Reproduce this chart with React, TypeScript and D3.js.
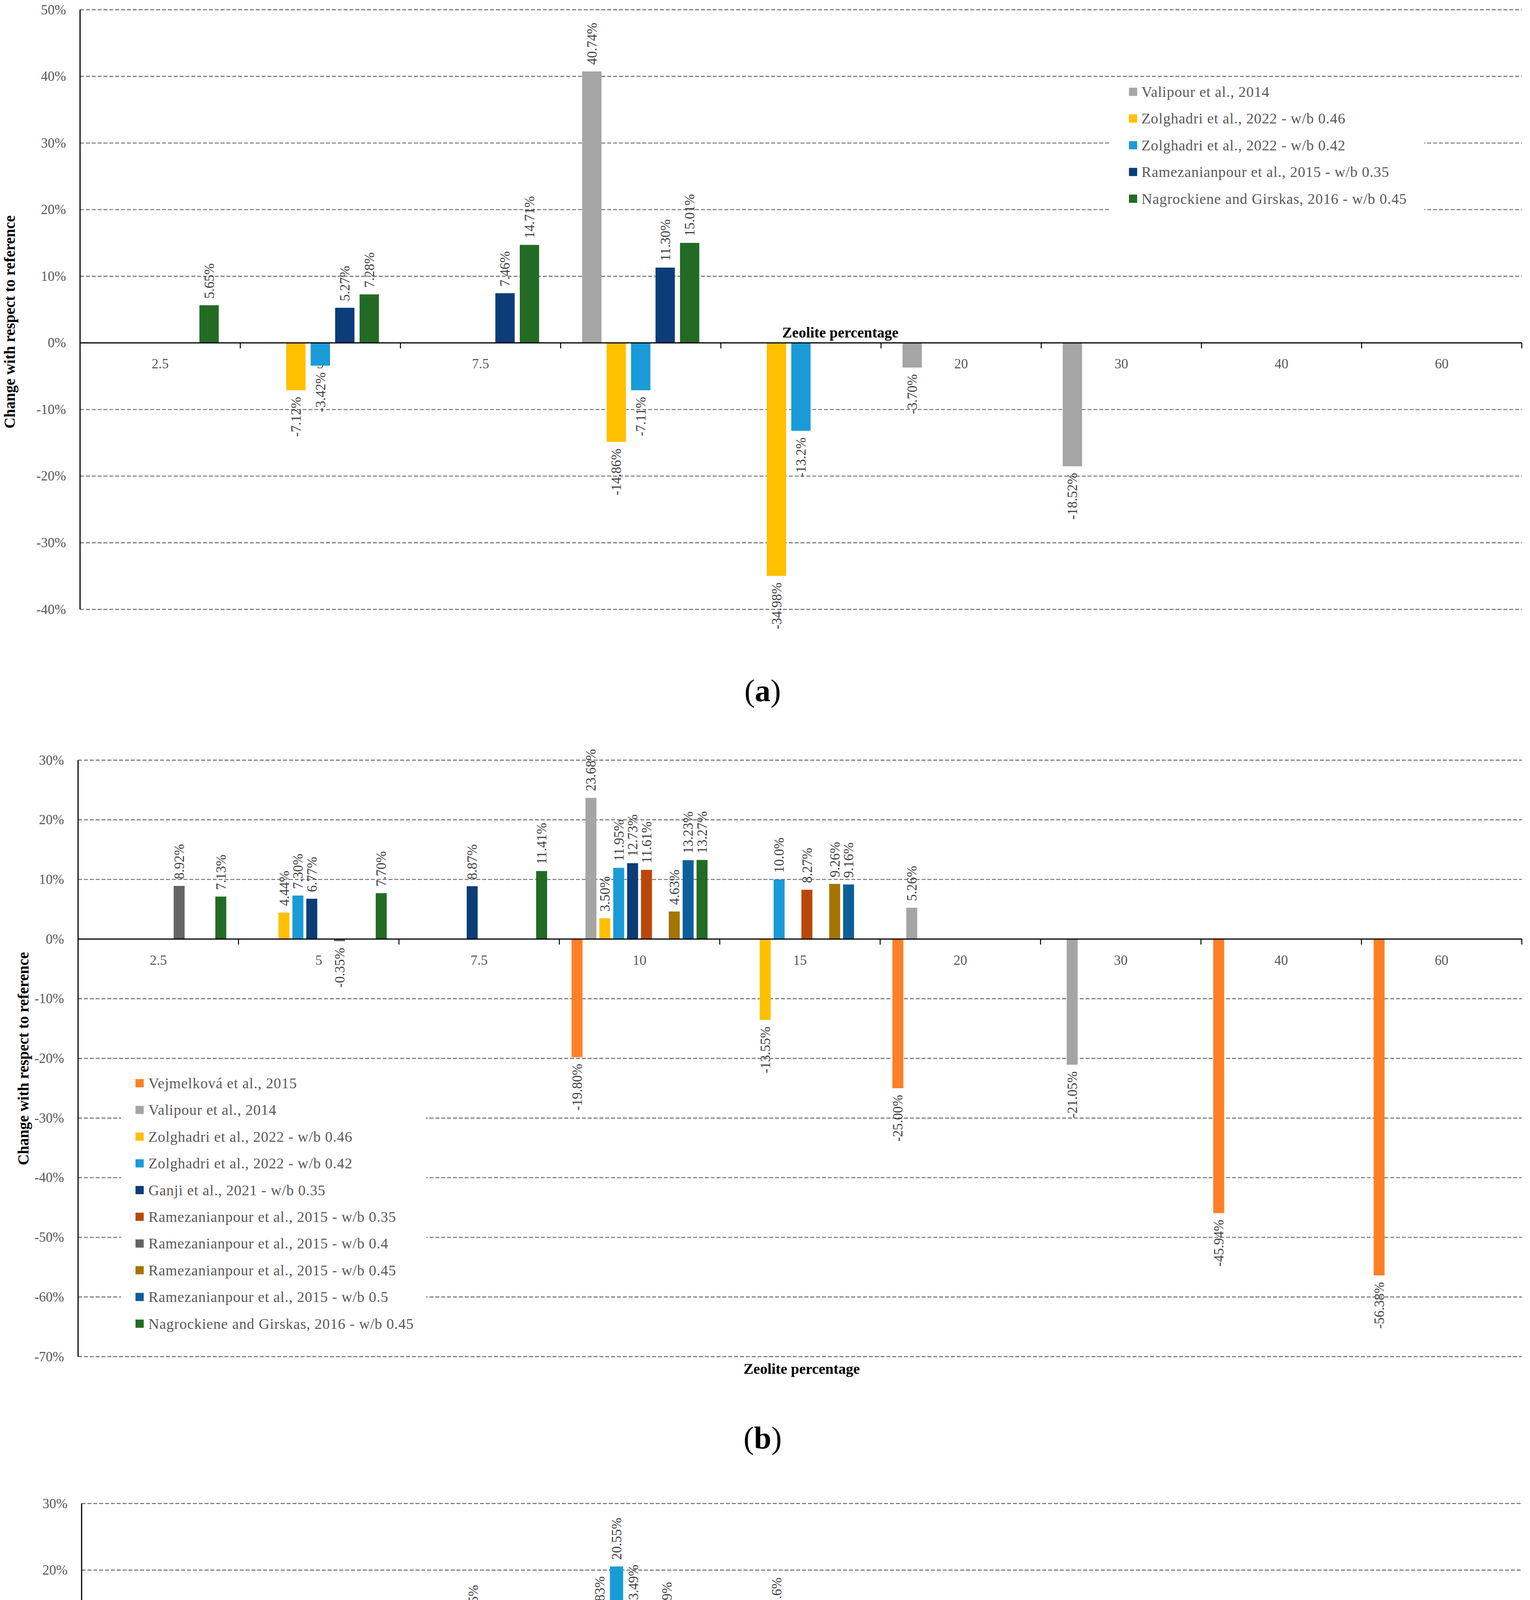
import React, { useRef, useEffect } from 'react';
import * as d3 from 'd3';

// Zeolite replacement levels shared by the three panels
const categories = ['2.5', '5', '7.5', '10', '15', '20', '30', '40', '60'];

// ---- panel (a) ----
const namesA = [
  'Valipour et al., 2014',
  'Zolghadri et al., 2022 - w/b 0.46',
  'Zolghadri et al., 2022 - w/b 0.42',
  'Ramezanianpour et al., 2015 - w/b 0.35',
  'Nagrockiene and Girskas, 2016 - w/b 0.45',
];
const valipourA = [null, null, null, '40.74', null, '-3.70', '-18.52', null, null];
const zolg046A = [null, '-7.12', null, '-14.86', '-34.98', null, null, null, null];
const zolg042A = [null, '-3.42', null, '-7.11', '-13.2', null, null, null, null];
const ram035A = [null, '5.27', '7.46', '11.30', null, null, null, null, null];
const nagA = ['5.65', '7.28', '14.71', '15.01', null, null, null, null, null];
const yTicksA = [-40, -30, -20, -10, 0, 10, 20, 30, 40, 50];

// ---- panel (b) ----
const namesB = [
  'Vejmelková et al., 2015',
  'Valipour et al., 2014',
  'Zolghadri et al., 2022 - w/b 0.46',
  'Zolghadri et al., 2022 - w/b 0.42',
  'Ganji et al., 2021 - w/b 0.35',
  'Ramezanianpour et al., 2015 - w/b 0.35',
  'Ramezanianpour et al., 2015 - w/b 0.4',
  'Ramezanianpour et al., 2015 - w/b 0.45',
  'Ramezanianpour et al., 2015 - w/b 0.5',
  'Nagrockiene and Girskas, 2016 - w/b 0.45',
];
const vejB = [null, null, null, '-19.80', null, '-25.00', null, '-45.94', '-56.38'];
const valipourB = [null, null, null, '23.68', null, '5.26', '-21.05', null, null];
const zolg046B = [null, '4.44', null, '3.50', '-13.55', null, null, null, null];
const zolg042B = [null, '7.30', null, '11.95', '10.0', null, null, null, null];
const ganjiB = [null, '6.77', '8.87', '12.73', null, null, null, null, null];
const ram035B = [null, null, null, '11.61', '8.27', null, null, null, null];
const ram04B = ['8.92', '-0.35', null, null, null, null, null, null, null];
const ram045B = [null, null, null, '4.63', '9.26', null, null, null, null];
const ram05B = [null, null, null, '13.23', '9.16', null, null, null, null];
const nagB = ['7.13', '7.70', '11.41', '13.27', null, null, null, null, null];
const yTicksB = [-70, -60, -50, -40, -30, -20, -10, 0, 10, 20, 30];

// ---- panel (c) ----
const namesC = [
  'Vejmelková et al., 2015',
  'Zolghadri et al., 2022 - w/b 0.46',
  'Zolghadri et al., 2022 - w/b 0.42',
  'Ganji et al., 2021 - w/b 0.35',
  'Ramezanianpour et al., 2015 - w/b 0.35',
  'Ramezanianpour et al., 2015 - w/b 0.4',
  'Ramezanianpour et al., 2015 - w/b 0.45',
  'Ramezanianpour et al., 2015 - w/b 0.5',
];
const vejC = [null, null, null, '-9.95', null, '-10.41', null, '-39.20', '-53.75'];
const zolg046C = [null, '6.45', null, '11.83', '-1.08', null, null, null, null];
const zolg042C = [null, '8.30', null, '20.55', '12.6', null, null, null, null];
const ganjiC = [null, '7.37', '10.45', '13.49', null, null, null, null, null];
const ram035C = [null, null, null, '4.93', '2.99', null, null, null, null];
const ram04C = [null, null, null, '10.89', '6.22', null, null, null, null];
const ram045C = [null, null, null, '-0.40', '3.01', null, null, null, null];
const ram05C = [null, null, null, '8.89', null, null, null, null, null];
const yTicksC = [-60, -50, -40, -30, -20, -10, 0, 10, 20, 30];

// colours
const ORANGE = '#fd8027';
const GRAY = '#a5a5a5';
const YELLOW = '#ffc000';
const BLUE = '#1a9bd7';
const NAVY = '#0b3d78';
const RUST = '#b8480a';
const DARKGRAY = '#646464';
const GOLD = '#a57500';
const STEEL = '#0d5f9b';
const GREEN = '#226b25';

const FONT = '"Liberation Serif", "Times New Roman", serif';
const W = 3918;
const H = 5645;

const panels = [
  {
    label: 'a',
    names: namesA,
    values: [valipourA, zolg046A, zolg042A, ram035A, nagA],
    colors: [GRAY, YELLOW, BLUE, NAVY, GREEN],
    ticks: yTicksA,
    left: 205, right: 3897, top: 25, bottom: 1560,
    yTitle: { x: 24, y: 824, bold: true },
    xTitle: { x: 2003, y: 851 },
    legend: { x0: 2840, x1: 3647, y0: 212, y1: 548, sq: 2891, tx: 2923, first: 235, step: 68.4 },
    panelLabelY: 1768,
  },
  {
    label: 'b',
    names: namesB,
    values: [vejB, valipourB, zolg046B, zolg042B, ganjiB, ram035B, ram04B, ram045B, ram05B, nagB],
    colors: [ORANGE, GRAY, YELLOW, BLUE, NAVY, RUST, DARKGRAY, GOLD, STEEL, GREEN],
    ticks: yTicksB,
    left: 200, right: 3897, top: 1946, bottom: 3473,
    yTitle: { x: 59, y: 2710, bold: true },
    xTitle: { x: 1904, y: 3504 },
    legend: { x0: 310, x1: 1091, y0: 2740, y1: 3420, sq: 347, tx: 380, first: 2773, step: 68.4 },
    panelLabelY: 3681,
  },
  {
    label: 'c',
    names: namesC,
    values: [vejC, zolg046C, zolg042C, ganjiC, ram035C, ram04C, ram045C, ram05C],
    colors: [ORANGE, YELLOW, BLUE, NAVY, RUST, DARKGRAY, GOLD, STEEL],
    ticks: yTicksC,
    left: 209, right: 3897, top: 3849, bottom: 5384,
    yTitle: { x: 47, y: 4548, bold: false },
    xTitle: { x: 1897, y: 5416 },
    legend: { x0: 338, x1: 1046, y0: 4712, y1: 5262, sq: 365, tx: 397, first: 4743, step: 68.3 },
    panelLabelY: 5592,
  },
];

function drawPanel(root, p) {
  const g = root.append('g');
  const yMin = d3.min(p.ticks);
  const yMax = d3.max(p.ticks);

  const x = d3.scaleBand().domain(categories).range([p.left, p.right]).padding(0);
  // series slots inside each category (Excel gap width ~ 21%)
  const xs = d3
    .scaleBand()
    .domain(p.names)
    .range([0, x.bandwidth()])
    .paddingInner(0.21)
    .paddingOuter(0.88);
  const y = d3.scaleLinear().domain([yMin, yMax]).range([p.bottom, p.top]);
  const zero = y(0);

  // dashed gridlines
  g.selectAll('line.grid')
    .data(p.ticks.filter((t) => t !== 0))
    .join('line')
    .attr('x1', p.left)
    .attr('x2', p.right)
    .attr('y1', (d) => y(d))
    .attr('y2', (d) => y(d))
    .attr('stroke', '#6a6a6a')
    .attr('stroke-width', 2.4)
    .attr('stroke-dasharray', '10,5');

  // legend background hides the grid behind it
  g.append('rect')
    .attr('x', p.legend.x0)
    .attr('y', p.legend.y0)
    .attr('width', p.legend.x1 - p.legend.x0)
    .attr('height', p.legend.y1 - p.legend.y0)
    .attr('fill', '#fff');

  // y tick labels
  g.selectAll('text.ytick')
    .data(p.ticks)
    .join('text')
    .attr('x', p.left - 36)
    .attr('y', (d) => y(d))
    .attr('text-anchor', 'end')
    .attr('dominant-baseline', 'central')
    .attr('font-size', 35)
    .attr('fill', '#595959')
    .text((d) => `${d}%`);

  // category labels sit behind the bars
  g.selectAll('text.cat')
    .data(categories)
    .join('text')
    .attr('x', (d) => x(d) + x.bandwidth() / 2)
    .attr('y', zero + 54)
    .attr('text-anchor', 'middle')
    .attr('dominant-baseline', 'central')
    .attr('font-size', 35)
    .attr('fill', '#595959')
    .text((d) => d);

  // bars
  const points = [];
  p.values.forEach((vals, si) => {
    vals.forEach((v, ci) => {
      if (v === null) return;
      points.push({ name: p.names[si], color: p.colors[si], cat: categories[ci], v: +v, text: `${v}%` });
    });
  });

  g.selectAll('rect.bar')
    .data(points)
    .join('rect')
    .attr('x', (d) => x(d.cat) + xs(d.name))
    .attr('width', xs.bandwidth())
    .attr('y', (d) => Math.min(y(d.v), zero))
    .attr('height', (d) => Math.abs(y(d.v) - zero))
    .attr('fill', (d) => d.color);

  // axes
  g.append('line')
    .attr('x1', p.left)
    .attr('x2', p.left)
    .attr('y1', p.top)
    .attr('y2', p.bottom)
    .attr('stroke', '#000')
    .attr('stroke-width', 3);
  g.append('line')
    .attr('x1', p.left)
    .attr('x2', p.right)
    .attr('y1', zero)
    .attr('y2', zero)
    .attr('stroke', '#000')
    .attr('stroke-width', 3);
  g.selectAll('line.xtick')
    .data(categories)
    .join('line')
    .attr('x1', (d) => x(d) + x.bandwidth())
    .attr('x2', (d) => x(d) + x.bandwidth())
    .attr('y1', zero)
    .attr('y2', zero + 14)
    .attr('stroke', '#000')
    .attr('stroke-width', 2.5);

  // rotated value labels
  g.selectAll('text.val')
    .data(points)
    .join('text')
    .attr('transform', (d) => {
      const cx = x(d.cat) + xs(d.name) + xs.bandwidth() / 2;
      const cy = d.v >= 0 ? y(d.v) - 17 : y(d.v) + 17;
      return `translate(${cx},${cy}) rotate(-90)`;
    })
    .attr('text-anchor', (d) => (d.v >= 0 ? 'start' : 'end'))
    .attr('dy', '0.35em')
    .attr('font-size', 35)
    .attr('fill', '#404040')
    .text((d) => d.text);

  // legend entries
  const items = g
    .selectAll('g.leg')
    .data(p.names)
    .join('g')
    .attr('transform', (d, i) => `translate(0,${p.legend.first + i * p.legend.step})`);
  items
    .append('rect')
    .attr('x', p.legend.sq)
    .attr('y', -10.5)
    .attr('width', 21)
    .attr('height', 21)
    .attr('fill', (d, i) => p.colors[i]);
  items
    .append('text')
    .attr('x', p.legend.tx)
    .attr('y', 0)
    .attr('dominant-baseline', 'central')
    .attr('font-size', 38)
    .attr('letter-spacing', 0.9)
    .attr('fill', '#595959')
    .text((d) => d);

  // axis titles
  g.append('text')
    .attr('transform', `translate(${p.yTitle.x},${p.yTitle.y}) rotate(-90)`)
    .attr('text-anchor', 'middle')
    .attr('dominant-baseline', 'central')
    .attr('font-size', p.yTitle.bold ? 39 : 41)
    .attr('font-weight', p.yTitle.bold ? 'bold' : 'normal')
    .attr('fill', p.yTitle.bold ? '#000' : '#595959')
    .text('Change with respect to reference');
  g.append('text')
    .attr('x', p.xTitle.x)
    .attr('y', p.xTitle.y)
    .attr('dominant-baseline', 'central')
    .attr('font-size', 38)
    .attr('font-weight', 'bold')
    .attr('fill', '#000')
    .text('Zeolite percentage');

  // panel letter
  const pl = g
    .append('text')
    .attr('x', 1953)
    .attr('y', p.panelLabelY)
    .attr('text-anchor', 'middle')
    .attr('dominant-baseline', 'central')
    .attr('font-size', 80)
    .attr('fill', '#000');
  pl.append('tspan').text('(');
  pl.append('tspan').attr('font-weight', 'bold').text(p.label);
  pl.append('tspan').text(')');
}

const App = () => {
  const svgRef = useRef<SVGSVGElement | null>(null);

  useEffect(() => {
    const svg = d3.select(svgRef.current);
    svg.selectAll('*').remove();
    svg.append('rect').attr('width', W).attr('height', H).attr('fill', '#fff');
    const root = svg.append('g').attr('font-family', FONT);
    panels.forEach((p) => drawPanel(root, p));
  }, []);

  return (
    <div style={{ margin: -8, width: W, height: H }}>
      <svg ref={svgRef} width={W} height={H} style={{ display: 'block' }} />
    </div>
  );
};

export default App;
